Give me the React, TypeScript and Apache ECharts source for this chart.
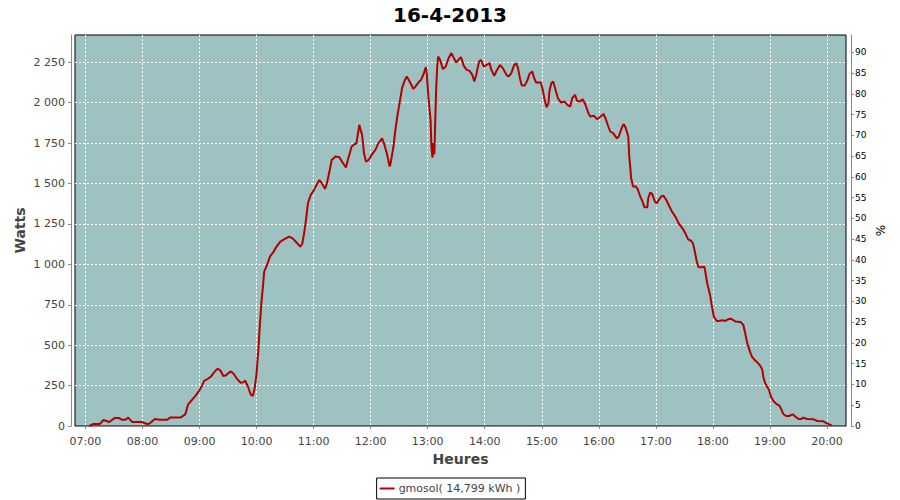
import React, { useEffect, useRef } from "react";
import * as echarts from "echarts";

const TITLE = "16-4-2013";
const SERIES_NAME = "gmosol( 14,799 kWh )";

// time in minutes since midnight
const times: number[] = [
  424, 428, 435, 439, 442, 445, 451, 455, 458, 462, 465, 469, 479, 485, 487, 493, 498, 506, 509, 520,
  525, 528, 532, 535, 539, 543, 545, 548, 552, 555, 559, 562, 565, 568, 570, 573, 576, 579, 583, 586,
  588, 591, 594, 596, 598, 600, 602, 603, 605, 607, 608, 611, 614, 618, 621, 625, 629, 634, 638, 642,
  646, 648, 650, 652, 654, 657, 660, 664, 666, 669, 672, 674, 677, 679, 683, 687, 691, 694, 696, 700,
  702, 705, 707, 708, 711, 713, 715, 718, 721, 725, 728, 732, 734, 737, 740, 741, 744, 746, 748, 751,
  753, 756, 758, 761, 765, 767, 771, 773, 776, 778, 779, 781, 783, 784, 785, 786, 787, 788, 789, 790,
  791, 793, 796, 799, 802, 805, 807, 810, 813, 815, 818, 821, 824, 827, 829, 831, 834, 836, 839, 842,
  845, 847, 850, 852, 856, 859, 863, 865, 868, 871, 873, 875, 877, 879, 882, 885, 887, 890, 892, 894,
  899, 901, 903, 905, 907, 908, 910, 912, 914, 917, 920, 924, 927, 930, 932, 935, 937, 940, 943, 946,
  949, 951, 955, 958, 962, 965, 967, 970, 972, 975, 979, 981, 984, 986, 988, 991, 992, 993, 994, 996,
  999, 1001, 1003, 1006, 1008, 1011, 1012, 1014, 1016, 1019, 1021, 1023, 1026, 1028, 1031, 1034, 1037, 1041, 1044, 1048,
  1051, 1054, 1057, 1059, 1061, 1063, 1065, 1068, 1071, 1072, 1074, 1077, 1079, 1081, 1084, 1086, 1090, 1093, 1096, 1099,
  1101, 1104, 1109, 1112, 1114, 1116, 1119, 1121, 1124, 1127, 1130, 1132, 1133, 1135, 1139, 1141, 1144, 1147, 1150, 1152,
  1154, 1157, 1160, 1164, 1166, 1170, 1173, 1175, 1179, 1186, 1190, 1196, 1200, 1205,
];

// power in watts
const watts: number[] = [
  0, 12, 12, 37, 31, 25, 50, 50, 39, 39, 52, 25, 25, 12, 14, 43, 39, 39, 52, 52,
  72, 134, 161, 182, 212, 254, 281, 289, 305, 330, 355, 343, 309, 314, 326, 338, 322, 295, 268, 270,
  281, 243, 192, 186, 233, 326, 481, 584, 759, 883, 955, 996, 1048, 1079, 1110, 1141, 1155, 1172, 1161, 1135,
  1110, 1126, 1192, 1275, 1378, 1430, 1456, 1502, 1522, 1498, 1467, 1502, 1584, 1646, 1667, 1663, 1626, 1599, 1646, 1729,
  1739, 1749, 1822, 1863, 1801, 1688, 1636, 1646, 1677, 1708, 1749, 1780, 1749, 1688, 1605, 1626, 1729, 1832, 1915, 2018,
  2090, 2141, 2162, 2131, 2085, 2100, 2131, 2141, 2183, 2220, 2183, 2018, 1894, 1720, 1660, 1750, 1680, 1900, 2100, 2224,
  2286, 2265, 2208, 2224, 2276, 2307, 2282, 2249, 2270, 2282, 2228, 2203, 2197, 2172, 2131, 2172, 2255, 2265, 2224, 2234,
  2245, 2203, 2166, 2193, 2234, 2214, 2172, 2162, 2183, 2234, 2245, 2214, 2152, 2106, 2106, 2141, 2178, 2193, 2152, 2125,
  2125, 2080, 2018, 1972, 1997, 2069, 2121, 2131, 2090, 2028, 2002, 2007, 1987, 1976, 2028, 2049, 2013, 2007, 2021, 1987,
  1935, 1915, 1919, 1898, 1915, 1931, 1904, 1853, 1822, 1812, 1780, 1791, 1843, 1868, 1849, 1791, 1667, 1605, 1533, 1481,
  1481, 1464, 1429, 1388, 1353, 1353, 1409, 1444, 1436, 1388, 1378, 1398, 1422, 1424, 1398, 1361, 1326, 1291, 1254, 1223,
  1192, 1155, 1146, 1130, 1079, 1017, 982, 982, 986, 955, 883, 811, 739, 677, 650, 650, 654, 650, 660, 664,
  656, 646, 644, 625, 574, 516, 460, 429, 408, 392, 371, 347, 305, 264, 223, 182, 151, 136, 126, 103,
  74, 62, 62, 72, 62, 43, 43, 52, 43, 41, 31, 29, 16, 4,
];

const hourTicks: number[] = [420, 480, 540, 600, 660, 720, 780, 840, 900, 960, 1020, 1080, 1140, 1200];
const wattTicks: number[] = [0, 250, 500, 750, 1000, 1250, 1500, 1750, 2000, 2250];
const pctTicks: number[] = [0, 5, 10, 15, 20, 25, 30, 35, 40, 45, 50, 55, 60, 65, 70, 75, 80, 85, 90];

const X_MIN = 409;
const X_MAX = 1220;
const W_MAX = 2419;
const P_MAX = 94.15;

const pad = (n: number) => (n < 10 ? "0" + n : "" + n);
const fmtTime = (m: number) => pad(Math.floor(m / 60)) + ":" + pad(Math.round(m % 60));
const fmtWatt = (v: number) => {
  const s = String(Math.round(v));
  return s.replace(/\B(?=(\d{3})+(?!\d))/g, " ");
};

const FONT = "DejaVu Sans";

export default function App() {
  const ref = useRef<HTMLDivElement>(null);
  useEffect(() => {
    if (!ref.current) return;
    const chart = echarts.init(ref.current, undefined, { renderer: "svg" });
    const data = times.map((t, i) => [t, watts[i]]);
    chart.setOption({
      animation: false,
      backgroundColor: "#ffffff",
      title: {
        text: TITLE,
        left: "center",
        top: 0,
        textStyle: { fontFamily: FONT, fontSize: 20, fontWeight: "bold", color: "#000" },
      },
      legend: {
        bottom: 1,
        left: "center",
        data: [SERIES_NAME],
        icon: "rect",
        itemWidth: 15,
        itemHeight: 2,
        itemGap: 4,
        padding: [5, 5, 5, 3],
        borderColor: "#000",
        borderWidth: 1,
        borderRadius: 0,
        textStyle: { fontFamily: FONT, fontSize: 11, color: "#444", padding: [0, 0, 0, -1] },
      },
      grid: {
        left: 75,
        right: 54,
        top: 35,
        bottom: 74,
        show: true,
        backgroundColor: "#9EC2C1",
        borderColor: "#000",
        borderWidth: 1,
      },
      xAxis: {
        type: "value",
        min: X_MIN,
        max: X_MAX,
        offset: 4,
        name: "Heures",
        nameLocation: "middle",
        nameGap: 22,
        nameMoveOverlap: false,
        nameTextStyle: { fontFamily: FONT, fontSize: 14, fontWeight: "bold", color: "#444" },
        axisLine: { show: true, lineStyle: { color: "#888", width: 1 } },
        axisTick: { show: true, length: 3, lineStyle: { color: "#888" }, customValues: hourTicks },
        axisLabel: {
          customValues: hourTicks,
          formatter: (v: number) => fmtTime(v),
          fontFamily: FONT,
          fontSize: 11,
          color: "#444",
          margin: 6,
        },
        splitLine: { show: true, lineStyle: { color: "#ffffff", type: [2, 2], width: 1 } },
      },
      yAxis: [
        {
          type: "value",
          min: 0,
          max: W_MAX,
          offset: 4,
          name: "Watts",
          nameLocation: "middle",
          nameRotate: 90,
          nameGap: 44,
          nameMoveOverlap: false,
          nameTextStyle: { fontFamily: FONT, fontSize: 14, fontWeight: "bold", color: "#444" },
          axisLine: { show: true, lineStyle: { color: "#888", width: 1 } },
          axisTick: { show: true, length: 3, lineStyle: { color: "#888" }, customValues: wattTicks },
          axisLabel: {
            customValues: wattTicks,
            formatter: (v: number) => fmtWatt(v),
            fontFamily: FONT,
            fontSize: 11,
            color: "#444",
            margin: 6,
          },
          splitLine: { show: true, lineStyle: { color: "#ffffff", type: [2, 2], width: 1 } },
        },
        {
          type: "value",
          min: 0,
          max: P_MAX,
          position: "right",
          offset: 5,
          name: "%",
          nameLocation: "middle",
          nameRotate: 90,
          nameGap: 24,
          nameMoveOverlap: false,
          nameTextStyle: { fontFamily: FONT, fontSize: 12, color: "#000" },
          axisLine: { show: true, lineStyle: { color: "#888", width: 1 } },
          axisTick: { show: true, length: 3, lineStyle: { color: "#888" }, customValues: pctTicks },
          axisLabel: {
            customValues: pctTicks,
            fontFamily: FONT,
            fontSize: 9,
            color: "#000",
            margin: 4,
          },
          splitLine: { show: false },
        },
      ],
      series: [
        {
          name: SERIES_NAME,
          type: "line",
          yAxisIndex: 0,
          data,
          showSymbol: false,
          symbol: "none",
          smooth: false,
          color: "#B30000",
          lineStyle: { color: "#B30000", width: 2 },
        },
      ],
    });
    return () => chart.dispose();
  }, []);
  return (
    <div
      ref={ref}
      style={{ position: "fixed", left: 0, top: 0, width: 900, height: 500 }}
    />
  );
}
